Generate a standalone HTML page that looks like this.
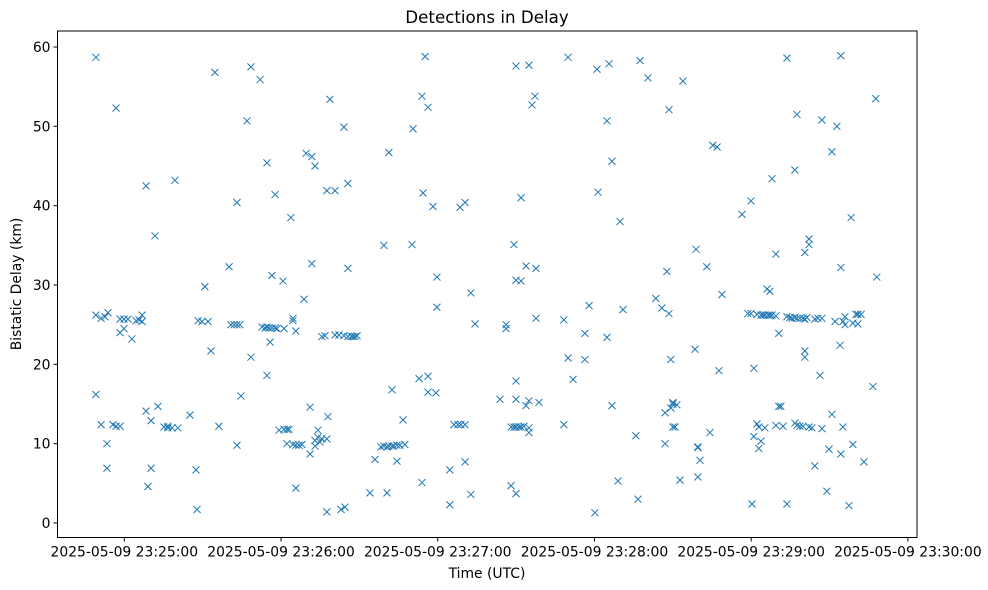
<!DOCTYPE html>
<html><head><meta charset="utf-8"><title>Detections in Delay</title>
<style>
html,body{margin:0;padding:0;background:#fff;}
svg{display:block;font-family:"DejaVu Sans","Liberation Sans",sans-serif;}
</style></head>
<body>
<svg id="chart" width="988" height="590" viewBox="0 0 988 590" xmlns="http://www.w3.org/2000/svg">
<rect x="0" y="0" width="988" height="590" fill="#fff"/>
<text x="487" y="23" text-anchor="middle" font-size="16.7">Detections in Delay</text>
<text x="487" y="578" text-anchor="middle" font-size="13.9">Time (UTC)</text>
<text transform="translate(21,284) rotate(-90)" text-anchor="middle" font-size="13.9">Bistatic Delay (km)</text>
<g id="marks"></g>
<g id="axes"></g>
</svg>
<script>
// Times in seconds (approximate clock), calibrated to UTC via offset/rate below
const clockOffsetSec = -2.03;
const clockRate = 1.006;
const xTickSec = [0, 60, 120, 180, 240, 300];
const xTickLabels = ["2025-05-09 23:25:00","2025-05-09 23:26:00","2025-05-09 23:27:00","2025-05-09 23:28:00","2025-05-09 23:29:00","2025-05-09 23:30:00"];
const yTicks = [0, 10, 20, 30, 40, 50, 60];
// detections: [time sec, delay km]
const detections = [
[-8.8,58.7],[-8.8,26.2],[-8.8,16.2],[-6.8,12.4],[-6.8,25.8],[-5.3,26.0],[-4.6,6.9],[-4.6,10.0],[-4.2,26.5],
[-2.3,12.4],[-1.1,52.3],[-1.1,12.2],[0.4,24.0],[0.4,25.7],[0.4,12.2],[1.9,24.5],[1.9,25.7],[3.4,25.7],[4.9,23.2],
[6.5,25.5],[7.6,25.6],[8.8,26.2],[8.8,25.4],[10.3,42.5],[10.3,14.1],[11.0,4.6],[12.2,12.9],[12.2,6.9],[13.7,36.2],
[14.8,14.7],[17.1,12.1],[18.6,12.2],[18.6,12.0],[20.2,12.0],[21.3,43.2],[22.4,12.0],[27.0,13.6],[29.3,6.7],[29.7,1.7],
[30.1,25.5],[31.6,25.4],[32.7,29.8],[33.9,25.4],[35.0,21.7],[36.5,56.8],[38.0,12.2],[41.9,32.3],[42.6,25.0],[43.8,25.0],
[44.9,9.8],[44.9,40.4],[44.9,25.0],[46.0,25.0],[46.4,16.0],[48.7,50.7],[50.2,57.5],[50.2,20.9],[53.7,55.9],[54.4,24.7],
[55.6,24.6],[56.3,18.6],[56.3,45.4],[56.3,24.7],[57.1,24.6],[57.5,22.8],[58.2,31.2],[58.2,24.6],[59.4,41.4],[59.4,24.6],
[60.1,24.5],[60.9,11.7],[62.4,30.5],[62.8,11.8],[62.8,24.5],[63.9,10.0],[63.9,11.8],[64.7,11.8],[65.4,38.5],[66.2,25.8],
[66.2,25.5],[66.2,9.9],[67.3,9.8],[67.3,4.4],[67.3,24.2],[68.5,9.8],[69.6,9.9],[70.4,28.2],[71.2,46.6],[72.7,14.6],
[72.7,8.7],[73.4,32.7],[73.4,46.2],[74.6,45.0],[74.6,9.7],[74.6,10.4],[75.7,10.8],[75.7,11.7],[76.5,10.2],[77.2,10.6],
[77.2,23.5],[78.4,23.6],[79.1,41.9],[79.1,10.6],[79.1,1.4],[79.5,13.4],[80.3,53.4],[82.2,23.7],[82.2,41.9],[83.7,23.7],
[84.5,1.7],[85.6,49.9],[85.6,23.6],[86.0,2.0],[87.1,32.1],[87.1,42.8],[87.1,23.5],[88.3,23.5],[89.0,23.5],[89.8,23.5],
[90.6,23.6],[95.5,3.8],[97.4,8.0],[99.7,9.6],[100.8,35.0],[100.8,9.7],[102.0,9.6],[102.0,3.8],[102.7,46.7],[102.7,9.7],
[103.9,16.8],[103.9,9.7],[104.6,9.7],[105.8,7.8],[105.8,9.8],[106.9,9.8],[108.1,13.0],[108.8,9.9],[111.5,35.1],[111.9,49.7],
[114.2,18.2],[115.3,53.8],[115.3,5.1],[115.7,41.6],[116.5,58.8],[117.6,18.5],[117.6,52.4],[117.6,16.5],[119.5,39.9],[120.6,16.4],
[121.0,27.2],[121.0,31.0],[125.9,2.3],[125.9,6.7],[127.5,12.4],[129.0,12.4],[129.8,39.8],[130.1,12.4],[131.7,40.4],[131.7,7.7],
[131.7,12.4],[133.9,29.0],[133.9,3.6],[135.5,25.1],[145.0,15.6],[147.3,24.5],[147.3,25.0],[149.2,4.7],[149.2,12.1],[150.3,35.1],
[150.3,12.1],[151.1,17.9],[151.1,30.6],[151.1,57.6],[151.1,15.6],[151.1,3.7],[151.1,12.1],[152.2,12.1],[153.0,41.0],[153.0,30.5],
[153.0,12.1],[154.1,12.2],[154.9,32.4],[154.9,14.8],[156.0,57.7],[156.0,15.4],[156.0,11.4],[156.0,12.0],[157.2,52.7],[158.3,53.8],
[158.7,25.8],[158.7,32.1],[159.8,15.2],[169.3,12.4],[169.3,25.6],[170.9,58.7],[170.9,20.8],[172.8,18.1],[177.3,23.9],[177.3,20.6],
[178.9,27.4],[181.1,1.3],[181.9,57.2],[182.3,41.7],[185.7,50.7],[185.7,23.4],[186.5,57.9],[187.6,45.6],[187.6,14.8],[189.9,5.3],
[190.7,38.0],[191.8,26.9],[196.7,11.0],[197.5,3.0],[198.3,58.3],[201.3,56.1],[204.3,28.3],[206.6,27.1],[207.8,10.0],[207.8,13.9],
[208.5,31.7],[209.3,52.1],[209.3,26.4],[210.0,20.6],[210.0,14.5],[210.8,15.0],[210.8,15.2],[210.8,12.1],[211.6,12.1],[212.3,14.9],
[213.5,5.4],[214.6,55.7],[219.2,21.9],[219.6,34.5],[220.3,9.6],[220.3,5.8],[220.3,9.5],[221.1,7.9],[223.7,32.3],[224.9,11.4],
[226.0,47.6],[227.6,47.4],[228.3,19.2],[229.5,28.8],[237.1,38.9],[239.3,26.4],[240.5,26.4],[240.5,40.6],[240.9,2.4],[241.6,19.5],
[241.6,10.9],[242.8,12.5],[242.8,26.3],[243.5,9.4],[243.5,12.1],[244.3,10.3],[244.3,26.2],[245.1,26.2],[245.8,12.0],[245.8,26.2],
[246.6,29.5],[247.0,26.2],[247.7,29.2],[247.7,26.2],[248.5,43.4],[248.5,26.2],[250.0,33.9],[250.0,26.1],[250.0,12.3],[251.1,14.7],
[251.1,23.9],[251.9,14.7],[252.7,12.2],[254.2,58.6],[254.2,2.4],[254.2,26.0],[255.3,25.9],[256.1,25.8],[257.2,44.5],[257.2,25.9],
[257.2,12.6],[258.0,51.5],[258.0,25.8],[258.0,12.3],[259.1,25.8],[259.1,12.2],[260.3,25.8],[260.3,12.2],[261.0,34.1],[261.0,21.7],
[261.0,20.9],[261.0,25.7],[261.8,25.9],[262.6,35.8],[262.6,35.1],[262.6,12.1],[263.7,12.0],[264.8,7.2],[264.8,25.7],[266.0,25.8],
[266.8,18.6],[267.5,50.8],[267.5,11.9],[267.5,25.8],[269.4,4.0],[270.2,9.3],[271.3,46.8],[271.3,13.7],[272.5,25.4],[273.2,50.0],
[274.4,22.4],[274.7,32.2],[274.7,58.9],[274.7,8.7],[275.5,12.1],[275.5,25.4],[276.3,25.0],[276.3,26.0],[277.8,2.2],[278.6,38.5],
[279.3,9.9],[279.3,25.2],[280.5,26.3],[281.2,25.1],[281.2,26.3],[282.4,26.3],[283.5,7.7],[286.9,17.2],[288.0,53.5],[288.4,31.0]
];
const NS="http://www.w3.org/2000/svg";
const plot={left:57.5,right:917,top:31,bottom:537.5};
function xScale(s){return 124.3+s*2.612;}
function yScale(v){return 523-v*7.933;}
const marks=document.getElementById('marks');
detections.forEach(function(d){
  const cx=xScale(d[0]*clockRate+clockOffsetSec), cy=yScale(d[1]), r=3.5;
  const p=document.createElementNS(NS,'path');
  p.setAttribute('d','M'+(cx-r)+' '+(cy-r)+'L'+(cx+r)+' '+(cy+r)+'M'+(cx-r)+' '+(cy+r)+'L'+(cx+r)+' '+(cy-r));
  p.setAttribute('stroke','#1f77b4');p.setAttribute('stroke-width','1');p.setAttribute('fill','none');
  
  
  marks.appendChild(p);
});
const axes=document.getElementById('axes');
const frame=document.createElementNS(NS,'rect');
frame.setAttribute('x',plot.left);frame.setAttribute('y',plot.top);
frame.setAttribute('width',plot.right-plot.left);frame.setAttribute('height',plot.bottom-plot.top);
frame.setAttribute('fill','none');frame.setAttribute('stroke','#000');frame.setAttribute('stroke-width','1');


axes.appendChild(frame);
xTickSec.forEach(function(s,i){
  const x=xScale(s);
  const l=document.createElementNS(NS,'line');
  l.setAttribute('x1',x);l.setAttribute('x2',x);l.setAttribute('y1',plot.bottom);l.setAttribute('y2',plot.bottom+4);
  l.setAttribute('stroke','#000');
  
  
  axes.appendChild(l);
  const t=document.createElementNS(NS,'text');
  t.setAttribute('x',x);t.setAttribute('y',plot.bottom+19);t.setAttribute('text-anchor','middle');t.setAttribute('font-size','13.9');
  t.textContent=xTickLabels[i];
  
  
  axes.appendChild(t);
});
yTicks.forEach(function(v){
  const y=yScale(v);
  const l=document.createElementNS(NS,'line');
  l.setAttribute('x1',plot.left-4);l.setAttribute('x2',plot.left);l.setAttribute('y1',y);l.setAttribute('y2',y);
  l.setAttribute('stroke','#000');
  
  
  axes.appendChild(l);
  const t=document.createElementNS(NS,'text');
  t.setAttribute('x',plot.left-7);t.setAttribute('y',y+5);t.setAttribute('text-anchor','end');t.setAttribute('font-size','13.9');
  t.textContent=v;
  
  
  axes.appendChild(t);
});
</script>
</body></html>
